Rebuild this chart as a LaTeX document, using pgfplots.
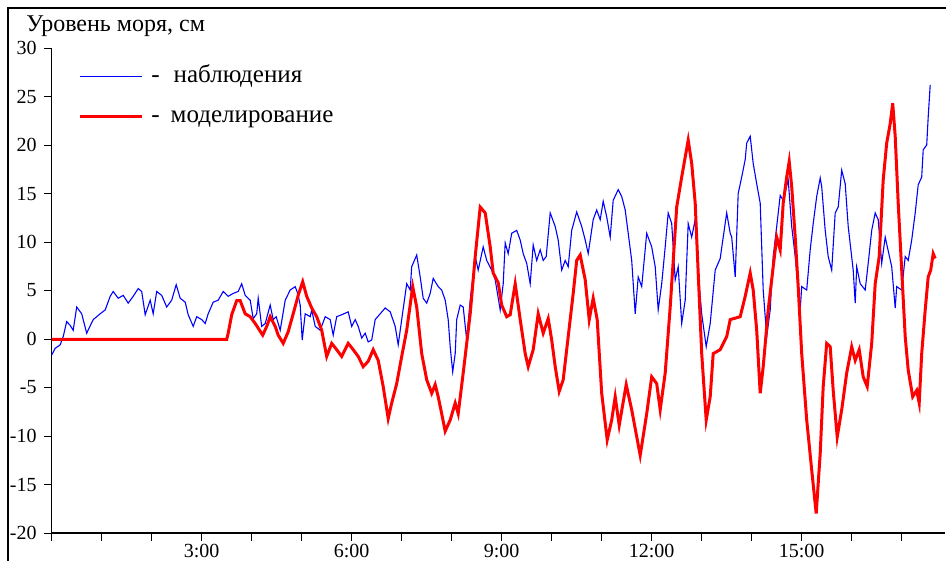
\documentclass[border=0pt]{standalone}
\usepackage{fontspec}
\setmainfont{Liberation Serif}
\usepackage{pgfplots}
\usepackage{pgfplotstable}
\pgfplotsset{compat=1.18}
\pgfplotstableread{
t v
0.00 -1.65
0.07 -0.96
0.17 -0.6
0.23 0.24
0.30 1.8
0.37 1.4
0.43 0.9
0.50 3.3
0.60 2.6
0.70 0.6
0.83 2.0
0.97 2.6
1.07 3.0
1.17 4.4
1.23 4.9
1.33 4.2
1.43 4.5
1.53 3.7
1.63 4.4
1.73 5.2
1.80 4.9
1.87 2.5
1.97 4.0
2.03 2.6
2.10 4.9
2.20 4.5
2.30 3.3
2.40 4.0
2.49 5.6
2.57 4.2
2.67 3.8
2.73 2.5
2.83 1.3
2.90 2.3
3.00 2.0
3.07 1.6
3.13 2.6
3.23 3.8
3.33 4.0
3.43 4.9
3.53 4.4
3.63 4.7
3.73 4.9
3.80 5.7
3.87 4.5
3.97 4.0
4.03 2.1
4.10 2.6
4.13 4.2
4.20 1.3
4.27 1.6
4.37 3.5
4.43 2.0
4.49 2.3
4.57 0.9
4.67 4.0
4.77 5.05
4.87 5.4
4.92 4.7
4.97 3.5
5.01 -0.1
5.07 2.6
5.17 2.3
5.20 3.0
5.27 1.3
5.37 0.9
5.47 2.3
5.57 2.0
5.63 0.4
5.70 2.3
5.80 2.5
5.93 2.8
6.00 1.3
6.07 2.0
6.13 1.3
6.20 0.1
6.27 0.6
6.33 -0.3
6.40 -0.1
6.47 2.0
6.57 2.6
6.67 3.2
6.77 2.8
6.87 1.3
6.93 -0.6
7.00 2.0
7.10 5.7
7.17 5.05
7.20 7.45
7.30 8.66
7.37 6.4
7.43 4.2
7.50 3.7
7.57 4.7
7.63 6.25
7.73 5.4
7.80 5.05
7.87 4.0
7.93 2.0
7.97 -0.8
8.02 -3.4
8.07 -1.5
8.10 2.0
8.17 3.5
8.23 3.3
8.30 -0.1
8.37 4.0
8.47 8.5
8.53 7.1
8.63 9.5
8.70 8.1
8.80 7.1
8.87 6.1
8.97 3.0
9.03 5.7
9.07 9.9
9.13 8.8
9.20 10.9
9.30 11.2
9.37 10.2
9.43 8.8
9.50 7.8
9.57 5.7
9.63 9.7
9.70 8.1
9.77 9.2
9.83 8.1
9.89 8.5
9.97 13.0
10.07 11.6
10.13 10.2
10.20 7.1
10.27 8.1
10.33 7.45
10.40 11.2
10.50 13.1
10.60 11.6
10.67 10.2
10.73 8.8
10.83 12.3
10.90 13.3
10.97 12.3
11.03 14.2
11.10 12.6
11.17 10.5
11.23 14.3
11.33 15.4
11.40 14.7
11.47 13.3
11.53 10.9
11.60 8.1
11.67 2.6
11.73 6.4
11.80 5.4
11.90 10.9
12.00 9.5
12.07 7.45
12.13 3.0
12.20 5.7
12.27 9.5
12.33 13.0
12.40 11.9
12.47 6.1
12.53 7.45
12.60 1.6
12.67 4.0
12.73 11.9
12.80 10.5
12.87 12.3
12.93 6.8
13.00 2.6
13.09 -0.8
13.17 1.6
13.27 7.1
13.37 8.3
13.43 10.5
13.50 13.0
13.57 10.9
13.60 10.5
13.67 6.4
13.73 15.0
13.80 16.7
13.87 18.5
13.90 20.2
13.97 20.9
14.03 18.1
14.10 16.0
14.17 14.0
14.23 5.05
14.30 0.24
14.37 3.0
14.43 8.5
14.50 11.6
14.57 14.8
14.63 14.3
14.73 16.4
14.80 11.6
14.87 8.5
14.97 3.0
15.00 5.4
15.10 5.05
15.17 9.2
15.23 11.9
15.30 14.7
15.37 16.6
15.40 15.7
15.47 11.2
15.53 8.5
15.60 7.1
15.67 13.0
15.73 13.6
15.80 17.4
15.87 16.0
15.93 11.6
16.03 7.1
16.07 3.7
16.10 7.45
16.17 5.7
16.27 5.05
16.33 7.8
16.40 11.2
16.47 13.0
16.53 12.3
16.60 7.8
16.67 10.5
16.80 7.45
16.87 3.2
16.90 5.4
17.00 5.05
17.07 8.5
17.13 8.1
17.20 10.2
17.27 13.0
17.33 15.9
17.40 16.7
17.43 19.5
17.50 20.0
17.53 22.9
17.57 26.2
}\obs
\pgfplotstableread{
t v
0.00 -0.05
3.50 -0.05
3.53 0.6
3.60 2.5
3.70 3.95
3.77 3.95
3.87 2.6
3.97 2.3
4.07 1.6
4.22 0.4
4.30 1.3
4.37 2.3
4.47 1.3
4.53 0.4
4.63 -0.45
4.73 0.75
4.83 2.6
4.93 4.5
5.02 5.9
5.10 4.4
5.20 3.2
5.30 2.3
5.40 0.9
5.50 -1.8
5.60 -0.45
5.70 -1.1
5.80 -1.8
5.93 -0.45
6.03 -1.1
6.13 -1.8
6.23 -2.85
6.33 -2.3
6.43 -1.1
6.53 -2.2
6.63 -4.9
6.73 -8.2
6.80 -6.6
6.90 -4.6
7.00 -1.8
7.10 0.9
7.22 5.4
7.30 3.3
7.40 -1.5
7.50 -4.2
7.60 -5.6
7.67 -4.7
7.73 -5.95
7.80 -7.7
7.87 -9.5
7.97 -8.35
8.07 -6.6
8.13 -7.7
8.23 -3.5
8.37 2.6
8.47 8.5
8.57 13.6
8.67 13.0
8.77 9.5
8.83 6.8
8.93 5.8
9.00 3.5
9.10 2.3
9.17 2.5
9.27 5.7
9.37 2.0
9.47 -1.5
9.53 -2.85
9.63 -1.1
9.73 2.6
9.83 0.6
9.93 2.1
10.00 -0.1
10.07 -2.85
10.15 -5.4
10.23 -4.2
10.33 0.24
10.43 4.7
10.50 8.1
10.57 8.66
10.67 6.1
10.75 2.0
10.83 4.2
10.91 2.0
11.00 -5.6
11.11 -10.4
11.20 -8.35
11.27 -5.95
11.35 -8.9
11.49 -4.7
11.60 -7.3
11.77 -12.0
11.90 -7.7
12.00 -3.9
12.10 -4.6
12.17 -7.3
12.27 -3.5
12.37 3.3
12.50 13.6
12.60 16.7
12.73 20.5
12.80 18.1
12.87 14.0
12.93 6.8
13.00 -1.5
13.09 -8.35
13.17 -5.95
13.23 -1.5
13.37 -1.1
13.50 0.24
13.57 2.0
13.77 2.3
13.87 4.4
13.97 6.8
14.03 5.05
14.10 0.9
14.17 -5.6
14.23 -2.85
14.33 3.0
14.43 7.45
14.50 10.5
14.57 9.2
14.63 14.0
14.70 16.7
14.75 18.3
14.80 15.7
14.87 10.5
14.93 5.4
15.00 -1.5
15.10 -8.35
15.20 -13.5
15.29 -18.0
15.37 -11.8
15.43 -4.9
15.50 -0.45
15.57 -0.8
15.63 -5.3
15.71 -10.1
15.80 -7.3
15.90 -3.5
16.00 -0.8
16.07 -2.2
16.15 -1.1
16.23 -3.9
16.31 -4.9
16.40 -0.45
16.47 5.7
16.55 8.5
16.63 16.4
16.70 20.2
16.77 22.2
16.82 24.3
16.87 20.9
16.93 14.0
17.00 7.1
17.07 0.24
17.13 -3.2
17.22 -5.95
17.30 -5.3
17.35 -6.6
17.40 -1.5
17.47 3.0
17.53 6.4
17.58 7.1
17.63 8.8
17.67 8.3
}\model
\begin{document}
\begin{tikzpicture}
\useasboundingbox (-25.85pt,-14pt) rectangle (447.15pt,266.5pt);
\begin{axis}[
  at={(0pt,0pt)}, anchor=south west,
  scale only axis, width=446.65pt, height=242.5pt,
  xmin=0, xmax=17.866, ymin=-20, ymax=30,
  axis x line=bottom, axis y line=left,
  axis line style={-, line width=0.6pt, black},
  tick align=outside, major tick length=4pt,
  xtick={0,...,17},
  xticklabels={,,,3:00,,,6:00,,,9:00,,,12:00,,,15:00,,},
  ytick={-20,-15,...,30},
  tick style={black, line width=0.5pt},
  tick label style={font=\fontsize{10}{12}\selectfont},
  xticklabel style={yshift=1.8pt},
  /pgf/number format/assume math mode=true,
  clip=false,
  legend style={at={(axis cs:0.526,28.25)}, anchor=north west, draw=none, fill=none,
    font=\fontsize{12.5}{14}\selectfont, row sep=8.5pt, inner sep=0pt,
    nodes={inner sep=0pt, text height=8.5pt, text depth=3pt}},
  legend cell align=left,
  legend image code/.code={\draw[#1] (0pt,0pt) -- (31pt,0pt);},
]
\addplot[blue, line width=0.55pt] table[x=t,y=v] {\obs};
\addlegendentry{\hspace{4pt}-\hspace{7pt}наблюдения}
\addplot[red, line width=1.5pt] table[x=t,y=v] {\model};
\addlegendentry{\hspace{4pt}-\hspace{5.5pt}моделирование}
\end{axis}
\node[anchor=base west, font=\fontsize{12}{14}\selectfont, inner sep=0pt] at (-12.85pt,250.5pt) {Уровень моря, см};
\draw[line width=1pt] (-21.85pt,-20pt) -- (-21.85pt,262.5pt) -- (460pt,262.5pt);
\end{tikzpicture}
\end{document}
